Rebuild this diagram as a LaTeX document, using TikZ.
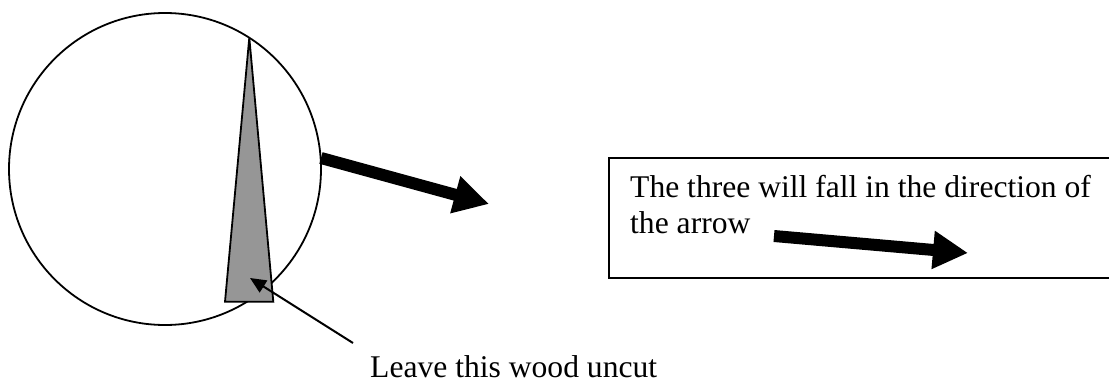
\documentclass[tikz,border=0pt]{standalone}
\usepackage{fontspec}
\setmainfont{Liberation Serif}
\usetikzlibrary{arrows.meta}
\definecolor{wedgegray}{RGB}{150,150,150}
\tikzset{
  outline/.style={draw=black, line width=1.8pt},
  fatarrow/.style={line width=12pt, -{Triangle[length=35pt,width=36pt]}},
  leader/.style={line width=2pt, -{Triangle[length=16pt,width=14pt]}},
  lbl/.style={inner sep=0pt, anchor=base west, font=\fontsize{31.6}{36}\selectfont}
}
\begin{document}
\begin{tikzpicture}[x=1pt,y=-1pt]
\useasboundingbox (0,0) rectangle (1109,383);
\fill[white] (0,0) rectangle (1109,383);
% trunk
\node[circle, outline, minimum size=312pt, inner sep=0pt] (trunk) at (165,169) {};
% wedge
\coordinate (wtop) at (249.3,37.7);
\coordinate (wbr) at (273.3,301.7);
\coordinate (wbl) at (225,301.7);
\filldraw[fill=wedgegray, outline, line join=miter] (wtop) -- (wbr) -- (wbl) -- cycle;
% big arrow
\coordinate (fa1) at (321,158);
\coordinate (fa2) at (489,204);
\draw[fatarrow] (fa1) -- (fa2);
% leader
\coordinate (ld1) at (353,343);
\coordinate (ld2) at (250,278);
\draw[leader] (ld1) -- (ld2);
\node[lbl] (leave) at (370,377) {Leave this wood uncut};
% box
\node[draw=black, line width=1.8pt, anchor=north west, minimum width=520pt, minimum height=120pt, inner sep=0pt] (box) at (608,157) {};
\node[lbl] (t1) at (630,197) {The three will fall in the direction of};
\node[lbl] (t2) at (630,233) {the arrow};
\coordinate (sa1) at (774,236);
\coordinate (sa2) at (968,253);
\draw[fatarrow] (sa1) -- (sa2);
\end{tikzpicture}
\end{document}
